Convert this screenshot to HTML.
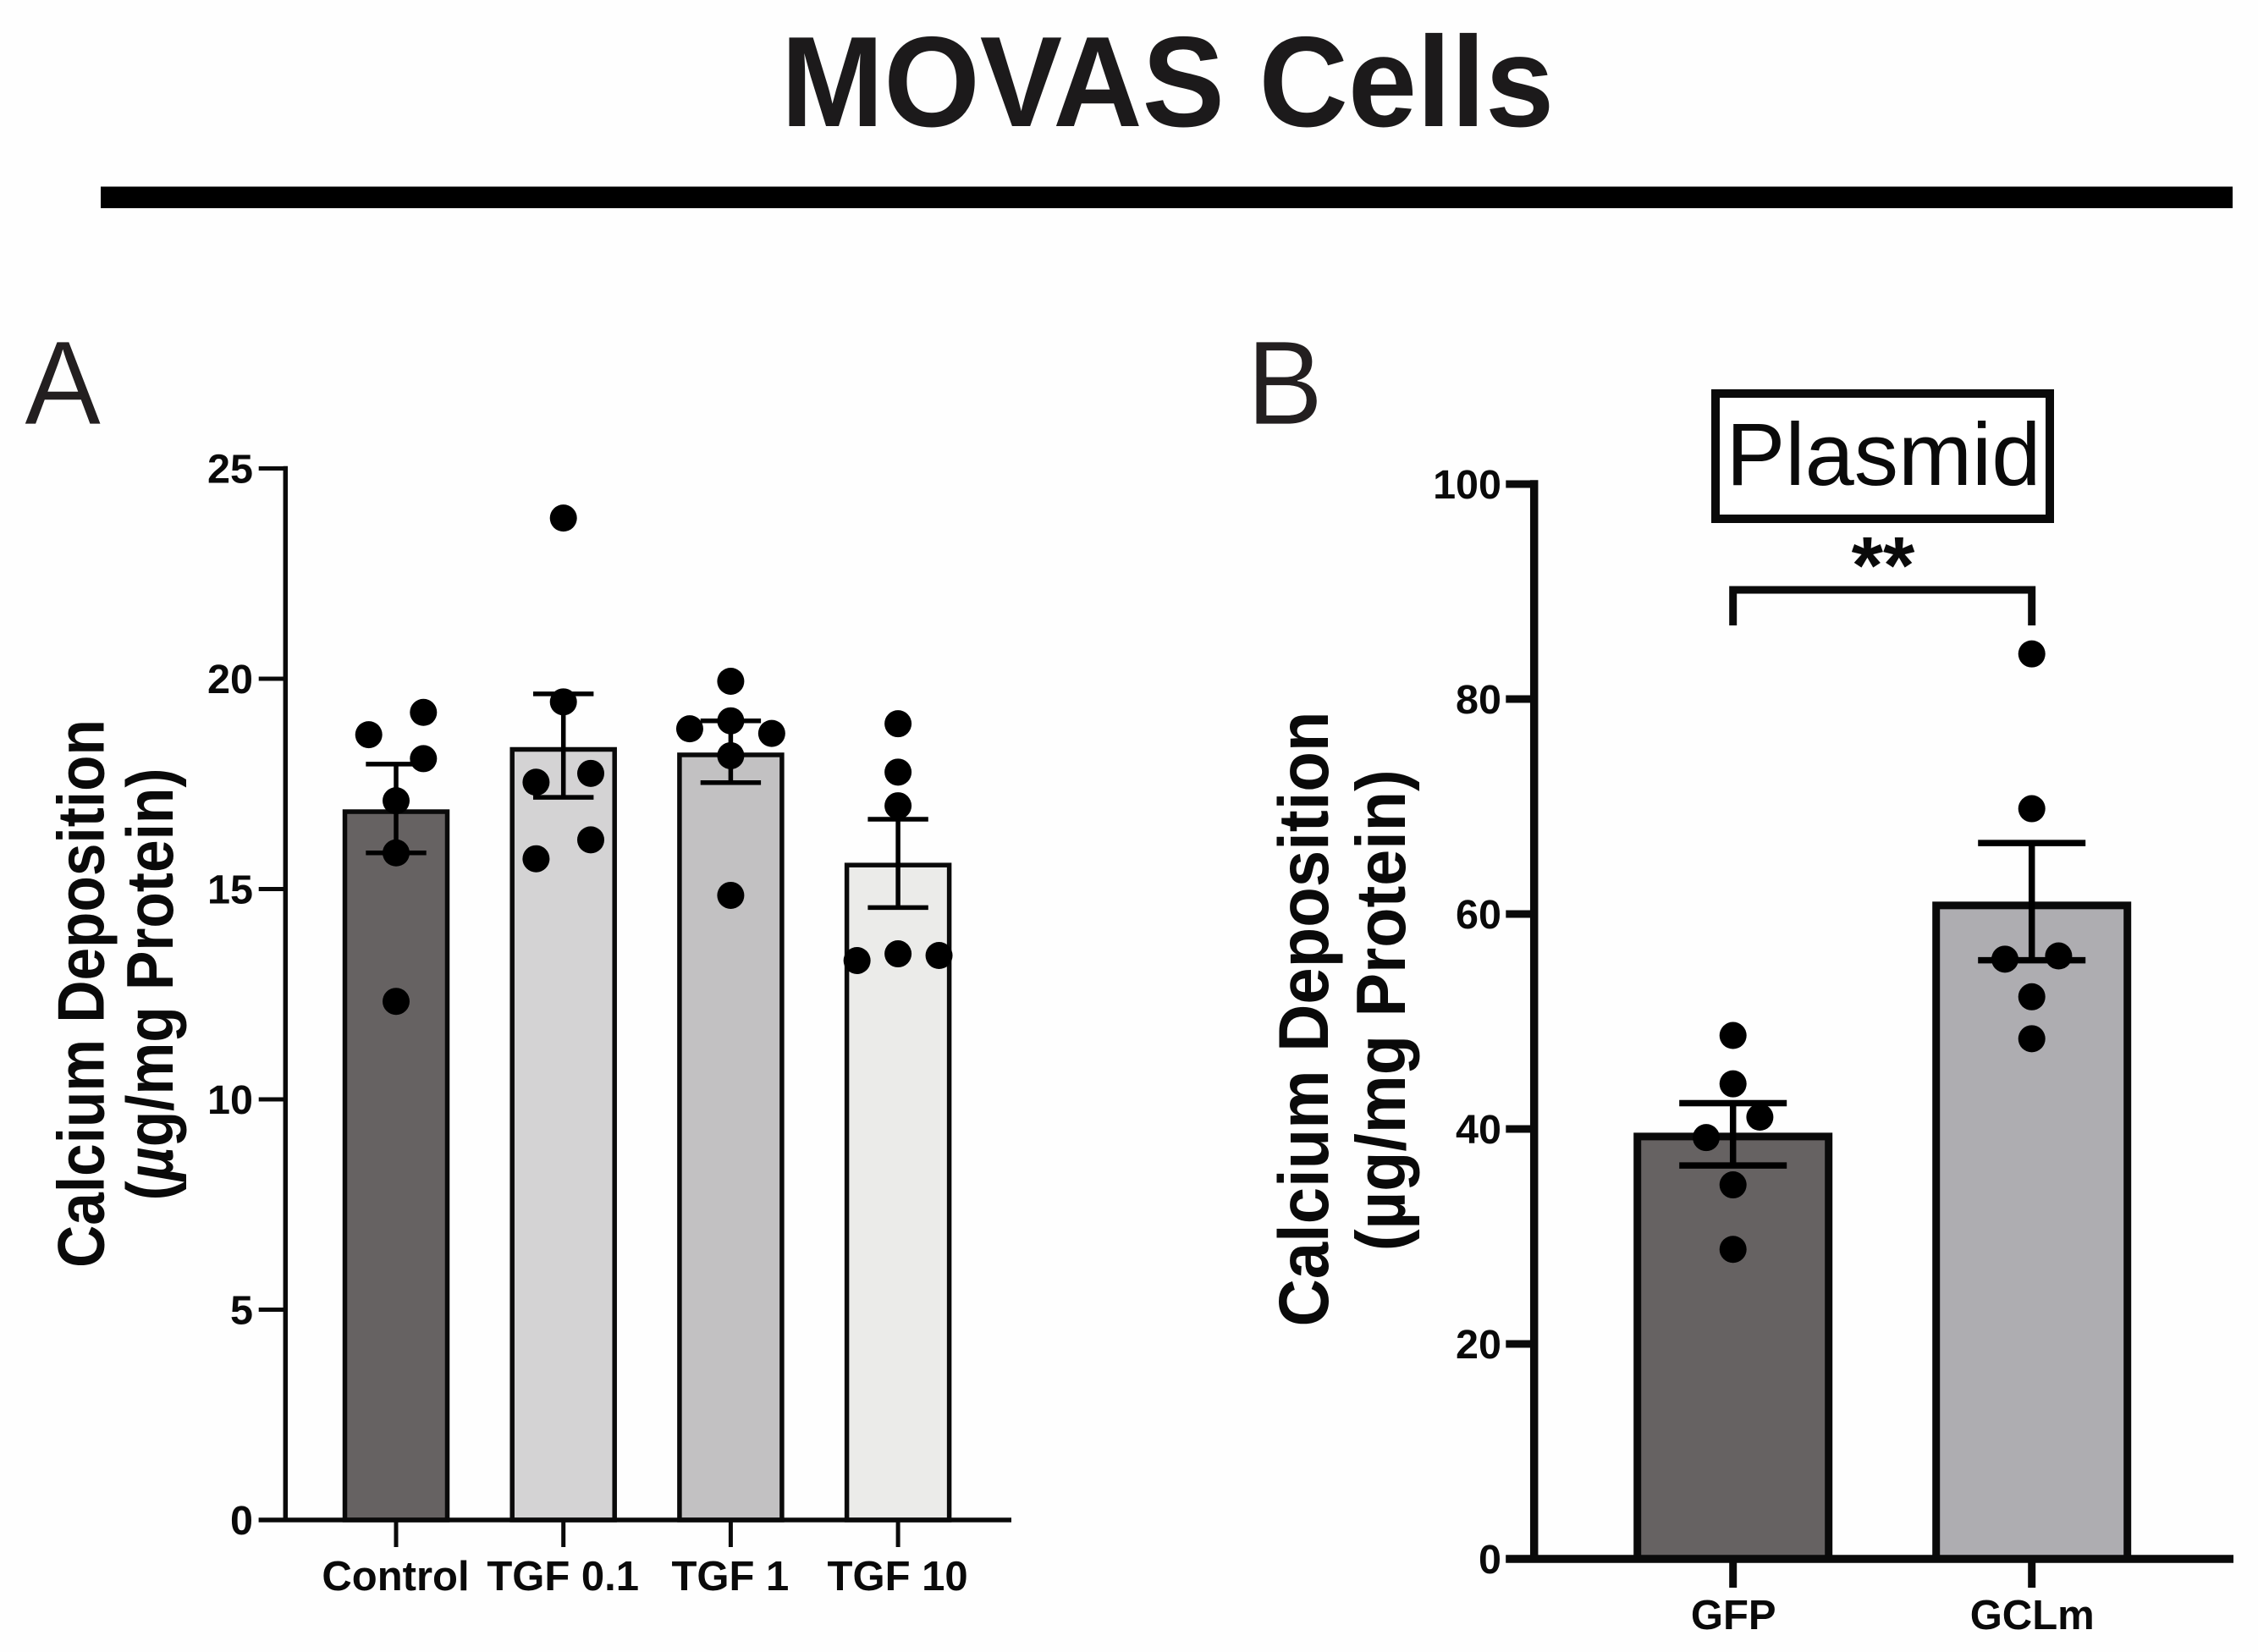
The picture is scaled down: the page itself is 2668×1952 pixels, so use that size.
<!DOCTYPE html>
<html lang="en">
<head>
<meta charset="utf-8">
<title>MOVAS Cells</title>
<style>
html,body{margin:0;padding:0;background:#fff;width:2668px;height:1952px;overflow:hidden}
svg{display:block}
text{font-family:"Liberation Sans",Arial,sans-serif;fill:#0a0a0a}
.b{font-weight:700}
</style>
</head>
<body>
<svg id="figure" xmlns="http://www.w3.org/2000/svg" width="2668" height="1952" viewBox="0 0 2668 1952">
<rect x="0" y="0" width="2668" height="1952" fill="#fefefe"/>
<text class="b" transform="translate(1379.5,149) scale(0.96,1)" font-size="152" text-anchor="middle" style="fill:#1c1a1b">MOVAS Cells</text>
<rect x="119" y="220.5" width="2519" height="25.5" fill="#000"/>
<text transform="translate(29,501) scale(0.96,1)" font-size="141" style="fill:#231f20;stroke:#fff;stroke-width:0.8">A</text>
<text transform="translate(1473,501) scale(0.96,1)" font-size="141" style="fill:#231f20;stroke:#fff;stroke-width:0.8">B</text>

<text class="b" transform="translate(122.5,1174) rotate(-90) scale(1,1.12)" font-size="69.4" text-anchor="middle">Calcium Deposition</text>
<text class="b" transform="translate(204,1163) rotate(-90) scale(1,1.12)" font-size="69.5" text-anchor="middle">(<tspan font-style="italic">µ</tspan>g/mg Protein)</text>
<text class="b" transform="translate(1569,1204) rotate(-90) scale(1,1.07)" font-size="77.9" text-anchor="middle">Calcium Deposition</text>
<text class="b" transform="translate(1660,1193.7) rotate(-90) scale(1,1.07)" font-size="77.4" text-anchor="middle">(µg/mg Protein)</text>

<rect x="2027" y="465" width="395" height="148" fill="#fff" stroke="#0a0a0a" stroke-width="10"/>
<text x="2225.5" y="573" font-size="104.5" text-anchor="middle">Plasmid</text>
<text class="b" x="2225" y="701" font-size="96" text-anchor="middle">**</text>
<path d="M2047.7 739V697H2400.7V739" fill="none" stroke="#0a0a0a" stroke-width="9"/>
<g id="chartA"></g>
<g id="chartB"></g>
</svg>
<script>
// Panel A data
const categoriesA = ['Control', 'TGF 0.1', 'TGF 1', 'TGF 10'];
const meansA = [16.84, 18.32, 18.19, 15.57];
const errUpperA = [17.97, 19.64, 19.0, 16.66];
const errLowerA = [15.86, 17.18, 17.53, 14.56];
const pointsA = [
  [18.67, 19.2, 18.1, 17.1, 15.86, 12.33],
  [23.82, 19.45, 17.54, 17.75, 16.17, 15.72],
  [19.94, 19.0, 18.81, 18.7, 18.17, 14.85],
  [18.93, 17.78, 16.98, 13.3, 13.46, 13.42]
];
const jitterA = [
  [-1, 1, 1, 0, 0, 0],
  [0, 0, -1, 1, 1, -1],
  [0, 0, -1.5, 1.5, 0, 0],
  [0, 0, 0, -1.5, 0, 1.5]
];
const fillsA = ['#666262', '#d4d3d4', '#c2c1c2', '#ebebe9'];
const ticksA = [0, 5, 10, 15, 20, 25];

// Panel B data
const categoriesB = ['GFP', 'GCLm'];
const meansB = [39.3, 60.8];
const errUpperB = [42.4, 66.6];
const errLowerB = [36.6, 55.7];
const pointsB = [
  [48.7, 44.2, 41.1, 39.2, 34.8, 28.8],
  [84.2, 69.8, 55.8, 56.1, 52.3, 48.4]
];
const jitterB = [
  [0, 0, 1, -1, 0, 0],
  [0, 0, -1, 1, 0, 0]
];
const fillsB = ['#666262', '#aeadb1'];
const ticksB = [0, 20, 40, 60, 80, 100];

const NS = 'http://www.w3.org/2000/svg';
const INK = '#0a0a0a';

function mk(parent, tag, props) {
  const el = document.createElementNS(NS, tag);
  for (const k in props) el.setAttribute(k, props[k]);
  parent.appendChild(el);
  return el;
}
function slug(s) { return String(s).toLowerCase().replace(/[^a-z0-9]+/g, '-'); }

function drawPanel(o) {
  const g = document.getElementById(o.id);
  const yS = v => o.y0 - v * o.yK;
  const xS = i => o.x0 + i * o.xStep;

  o.categories.forEach((cat, i) => {
    const name = o.prefix + '-' + slug(cat);
    const top = yS(o.means[i]);
    const bar = mk(g, 'rect', {
      x: xS(i) - o.barW / 2, y: top, width: o.barW, height: o.y0 - top,
      fill: o.fills[i], stroke: INK, 'stroke-width': o.barStroke
    });
    
    

    o.points[i].forEach((v, j) => {
      const dot = mk(g, 'circle', {
        cx: xS(i) + o.jitter[i][j] * o.jitterStep, cy: yS(v), r: o.dotR, fill: '#000'
      });
      
      
    });

    const up = yS(o.errUpper[i]), lo = yS(o.errLower[i]);
    const err = mk(g, 'path', {
      d: 'M' + (xS(i) - o.capW) + ' ' + up + 'H' + (xS(i) + o.capW) +
         'M' + xS(i) + ' ' + up + 'V' + lo +
         'M' + (xS(i) - o.capW) + ' ' + lo + 'H' + (xS(i) + o.capW),
      fill: 'none', stroke: '#000', 'stroke-width': o.errStroke
    });
    
    

    const xt = mk(g, 'line', {
      x1: xS(i), x2: xS(i), y1: o.y0, y2: o.y0 + o.xTickLen, stroke: INK, 'stroke-width': o.tickStroke
    });
    
    

    const lb = mk(g, 'text', {
      x: xS(i) + o.xLabelDx, y: o.xLabelY, 'font-size': o.xLabelSize, 'text-anchor': 'middle', 'font-weight': 700
    });
    lb.textContent = cat;
    
    
  });

  o.ticks.forEach(v => {
    const t = mk(g, 'line', {
      x1: o.axisX - o.yTickLen, x2: o.axisX, y1: yS(v), y2: yS(v), stroke: INK, 'stroke-width': o.tickStroke
    });
    
    

    const l = mk(g, 'text', {
      x: o.yLabelX, y: yS(v) + 17, 'font-size': o.yLabelSize, 'text-anchor': 'end', 'font-weight': 700
    });
    l.textContent = v;
    
    
  });

  const yAxis = mk(g, 'line', {
    x1: o.axisX, x2: o.axisX, y1: yS(o.ticks[o.ticks.length - 1]) - o.axisStroke / 2, y2: o.y0,
    stroke: INK, 'stroke-width': o.axisStroke
  });
  
  

  const xAxis = mk(g, 'line', {
    x1: o.axisX - o.yTickLen, x2: o.xEnd, y1: o.y0, y2: o.y0, stroke: INK, 'stroke-width': o.axisStroke
  });
  
  
}

drawPanel({
  id: 'chartA', prefix: 'panel-a',
  categories: categoriesA, means: meansA, errUpper: errUpperA, errLower: errLowerA,
  points: pointsA, jitter: jitterA, fills: fillsA, ticks: ticksA,
  y0: 1796, yK: 49.7, x0: 468, xStep: 197.7, barW: 121, barStroke: 5.5, capW: 35.7, errStroke: 5.5,
  dotR: 16, jitterStep: 32.3, axisX: 337.3, xEnd: 1195, yTickLen: 31.6, xTickLen: 32,
  tickStroke: 5, axisStroke: 5.5, yLabelX: 299, yLabelSize: 48.5, xLabelY: 1879, xLabelSize: 49, xLabelDx: -0.5
});
drawPanel({
  id: 'chartB', prefix: 'panel-b',
  categories: categoriesB, means: meansB, errUpper: errUpperB, errLower: errLowerB,
  points: pointsB, jitter: jitterB, fills: fillsB, ticks: ticksB,
  y0: 1842, yK: 12.7, x0: 2047.7, xStep: 353, barW: 226, barStroke: 9, capW: 63.5, errStroke: 7.5,
  dotR: 16, jitterStep: 31.7, axisX: 1812.7, xEnd: 2639, yTickLen: 33.4, xTickLen: 34,
  tickStroke: 9, axisStroke: 9.5, yLabelX: 1774, yLabelSize: 48.5, xLabelY: 1925, xLabelSize: 49, xLabelDx: 0.5
});
</script>
</body>
</html>
